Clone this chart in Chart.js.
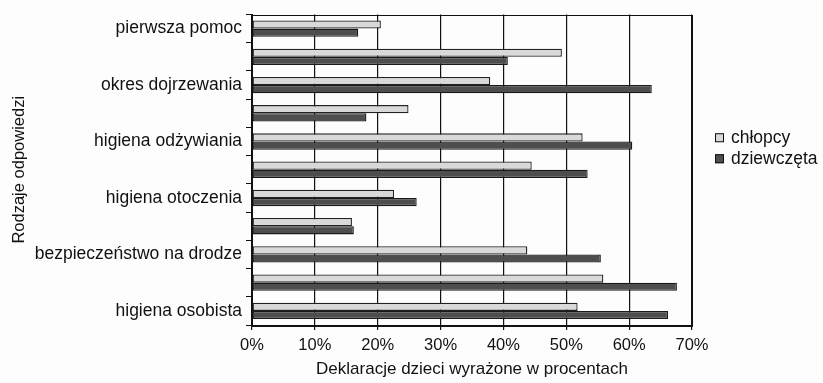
<!DOCTYPE html>
<html>
<head>
<meta charset="utf-8">
<script src="https://cdn.jsdelivr.net/npm/chart.js@4"></script>
<style>
  html, body { margin: 0; padding: 0; background: #fdfdfd; }
  #wrap { width: 823px; height: 383px; position: relative; }
</style>
</head>
<body>
<div id="wrap"><canvas id="c"></canvas></div>
<script>
// categories top to bottom; unlabeled rows are skipped in the original
const categories = [
  'pierwsza pomoc', '', 'okres dojrzewania', '', 'higiena odżywiania', '',
  'higiena otoczenia', '', 'bezpieczeństwo na drodze', '', 'higiena osobista',
];
const chlopcy     = [20.5, 49.3, 37.9, 24.9, 52.6, 44.5, 22.6, 15.9, 43.8, 55.9, 51.8];
const dziewczeta  = [16.9, 40.7, 63.6, 18.2, 60.5, 53.4, 26.2, 16.2, 55.5, 67.6, 66.2];
const xTicks = [0, 10, 20, 30, 40, 50, 60, 70];

const FONT = '"Liberation Sans", Arial, Helvetica, sans-serif';

// box around the plot area (Excel draws a full frame)
const frame = {
  id: 'frame',
  afterDatasetsDraw(chart) {
    const { ctx, chartArea: a } = chart;
    ctx.save();
    ctx.strokeStyle = '#111';
    ctx.lineWidth = 1;
    ctx.strokeRect(Math.round(a.left) + 0.5, Math.round(a.top) + 0.5,
      Math.round(a.right - a.left), Math.round(a.bottom - a.top));
    ctx.restore();
  },
};

// legend to the right of the plot, slightly above centre
const sideLegend = {
  id: 'sideLegend',
  afterDraw(chart) {
    const { ctx, chartArea: a } = chart;
    const mid = (a.top + a.bottom) / 2;
    ctx.save();
    ctx.font = '17.5px ' + FONT;
    ctx.textBaseline = 'middle';
    chart.data.datasets.forEach((ds, i) => {
      const y = mid - 32 + i * 21;
      const x = a.right + 23;
      ctx.fillStyle = ds.backgroundColor;
      ctx.fillRect(x, y - 4.5, 9, 9);
      ctx.strokeStyle = '#111';
      ctx.lineWidth = 1;
      ctx.strokeRect(x + 0.5, y - 4, 8, 8);
      ctx.fillStyle = '#111';
      ctx.fillText(ds.label, x + 16, y);
    });
    ctx.restore();
  },
};

new Chart(document.getElementById('c'), {
  type: 'bar',
  data: {
    labels: categories,
    datasets: [
      {
        label: 'chłopcy',
        data: chlopcy,
        backgroundColor: '#d9d9d9',
        borderColor: '#222',
        borderWidth: 1.3,
        borderSkipped: false,
      },
      {
        label: 'dziewczęta',
        data: dziewczeta,
        backgroundColor: '#4e4e4e',
        borderColor: '#1a1a1a',
        borderWidth: 1.3,
        borderSkipped: false,
      },
    ],
  },
  options: {
    indexAxis: 'y',
    responsive: true,
    maintainAspectRatio: false,
    animation: false,
    categoryPercentage: 0.58,
    barPercentage: 1.0,
    layout: { padding: { top: 13, right: 131, left: 0, bottom: 0 } },
    scales: {
      x: {
        min: 0,
        max: 70,
        afterBuildTicks(scale) { scale.ticks = xTicks.map(v => ({ value: v })); },
        afterFit(scale) { scale.height = 58; },
        grid: { color: '#111', lineWidth: 1.2, tickLength: 5, drawTicks: true },
        border: { color: '#111' },
        ticks: {
          color: '#111',
          font: { family: FONT, size: 16.5 },
          padding: 6,
          maxRotation: 0,
          callback: v => v + '%',
        },
        title: {
          display: true,
          text: 'Deklaracje dzieci wyrażone w procentach',
          color: '#111',
          font: { family: FONT, size: 17 },
          padding: { top: 2, bottom: 3 },
        },
      },
      y: {
        afterFit(scale) { scale.width = 252; },
        grid: { display: true, drawOnChartArea: false, color: '#111', tickLength: 6, offset: true },
        border: { color: '#111' },
        ticks: {
          color: '#111',
          font: { family: FONT, size: 17.5 },
          padding: 4,
          autoSkip: false,
        },
        title: {
          display: true,
          text: 'Rodzaje odpowiedzi',
          color: '#111',
          font: { family: FONT, size: 16.5 },
          padding: { top: 10, bottom: 0 },
        },
      },
    },
    plugins: {
      legend: { display: false },
      tooltip: { enabled: false },
    },
  },
  plugins: [frame, sideLegend],
});
</script>
</body>
</html>
